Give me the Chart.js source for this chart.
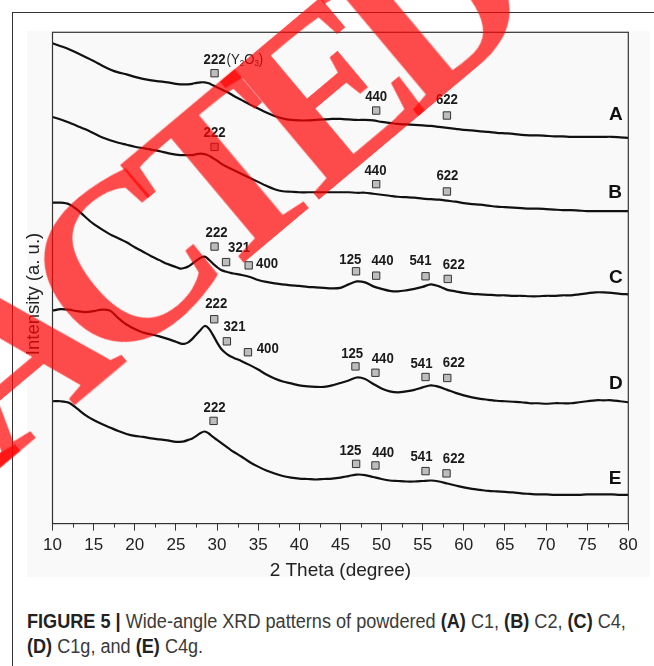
<!DOCTYPE html>
<html>
<head>
<meta charset="utf-8">
<script src="https://cdn.jsdelivr.net/npm/chart.js@4.4.1/dist/chart.umd.min.js"></script>
<style>
    body { margin: 0; background: #fff; }
    #wrap { position: relative; width: 654px; height: 666px; overflow: hidden; }
    #frame { position: absolute; left: 12px; top: 12px; width: 700px; height: 700px; border-left: 1px solid #333; border-top: 1px solid #333; }
    #panel { position: absolute; left: 27px; top: 31px; width: 623px; height: 546px; background: #f9f9f9; }
    #xrd { position: absolute; left: 0; top: 0; }
    #caption { position: absolute; left: 27px; top: 609px; font-family: "Liberation Sans", Arial, sans-serif; font-size: 19.5px; line-height: 25px; color: #3a3a3a; white-space: nowrap; }
    #caption .ln { display: block; transform-origin: left center; }
    #caption .ln span { display: inline-block; }
    #caption b { color: #222; }
    #stamp { position: absolute; left: 2px; top: 363px; transform: translate(-50%, -50%) rotate(-40deg); font-family: "Liberation Serif", serif; font-weight: bold; font-size: 235px; letter-spacing: -27px; line-height: 1; color: rgba(255, 0, 0, 0.7); white-space: nowrap; pointer-events: none; }
</style>
</head>
<body>
<div id="wrap">
    <div id="frame"></div>
    <div id="panel"></div>
    <canvas id="xrd" width="654" height="580"></canvas>
    <div id="caption">
        <div class="ln"><span id="line1"><b>FIGURE 5 |</b> Wide-angle XRD patterns of powdered <b>(A)</b> C1, <b>(B)</b> C2, <b>(C)</b> C4,</span></div>
        <div class="ln"><span id="line2"><b>(D)</b> C1g, and <b>(E)</b> C4g.</span></div>
    </div>
    <div id="stamp">RETRACTED</div>
</div>
<script>
// 2 theta positions (degree)
const theta = [10, 11, 12, 13, 14, 15, 16, 17, 18, 19, 20, 21, 22, 23, 24,
    25, 25.5, 26, 26.5, 27, 27.5, 28, 28.5, 29, 29.5, 30, 30.5, 31, 31.5, 32,
    33, 34, 35, 36, 37, 38, 39, 40, 41, 42, 43, 44, 45, 46, 47, 48, 49, 50, 51, 52, 53, 54, 55, 56,
    57, 58, 59, 60, 61, 62, 63, 64, 65, 66, 67, 68, 69, 70, 71, 72, 73, 74, 75, 76, 77, 78, 79, 80]

// stacked intensities (a. u.)
const patternA = [485, 482, 479, 475, 471, 467, 462.5, 458.5, 455.5, 453.5, 451, 449, 447.5, 446.5, 445.5,
    444, 443.5, 443.5, 443.5, 444, 445, 445.5, 445.5, 444.5, 442.5, 440.5, 438.5, 436.5, 434.5, 432,
    427.5, 423, 419, 415, 411.5, 409, 407.5, 407, 407, 407.5, 408, 408.5, 408.5, 408, 407.5, 407.5, 407, 405.5, 404.5, 403.5, 403, 402.5, 402, 401.5,
    400.5, 399.5, 398.5, 397.5, 397, 396, 395.5, 394.5, 394, 393.5, 392.5, 392, 392, 391.5, 391, 391, 390.5, 390.5, 390.5, 390.5, 390.5, 390.5, 390, 389.5]

const patternB = [410.5, 408, 405, 401.5, 398, 394, 390, 387, 384.5, 382.5, 380.5, 379, 377.5, 376, 374,
    372.5, 372, 372, 372, 372, 373, 373.5, 373, 371.5, 369, 366.5, 363.5, 361, 359, 357,
    353, 349, 345, 341, 337.5, 335.5, 335, 334.5, 334.5, 334.5, 334.5, 334.5, 334.5, 334.5, 334, 334, 333, 332, 331, 330, 329.5, 329, 328, 327.5,
    327, 326, 325, 323.5, 322.5, 322, 321, 320, 319.5, 319, 318.5, 318, 318, 317.5, 317, 316.5, 316.5, 316, 315.5, 315.5, 315.5, 315.5, 315.5, 315.5]

const patternC = [324, 324, 322.5, 317, 309.5, 302.5, 297, 292, 288, 284, 279, 274.5, 270, 266, 262,
    259, 257.5, 258, 259.5, 262.5, 265.5, 268.5, 269.5, 266.5, 262.5, 259, 256, 254.5, 253.5, 252.5,
    251, 249, 246, 244, 242.5, 241.5, 240.5, 240, 239, 238.5, 238, 237.5, 238, 241.5, 244.5, 243.5, 239.5, 237, 235, 234.5, 235.5, 237, 239, 241.5,
    239.5, 236, 234.5, 233, 232, 231.5, 231, 230.5, 230.5, 230, 230, 229.5, 229.5, 230, 230, 230.5, 230.5, 231.5, 232.5, 233.5, 233.5, 233, 232, 231.5]

const patternD = [215, 216.5, 216, 214.5, 213.5, 214.5, 216, 215, 207.5, 201, 196.5, 193, 191, 189, 186.5,
    183.5, 182, 181.5, 183, 186.5, 191, 195.5, 199.5, 197, 190.5, 183, 176.5, 172.5, 169.5, 167.5,
    164, 160, 155.5, 150.5, 146.5, 143.5, 141.5, 139.5, 138.5, 138, 138, 139.5, 142, 144.5, 147.5, 146, 141, 136.5, 133.5, 132.5, 133.5, 135, 137.5, 139.5,
    138, 135, 132, 129.5, 127.5, 126, 125, 124, 123.5, 123, 122.5, 121.5, 121.5, 121, 121.5, 121.5, 121.5, 122.5, 123.5, 124.5, 124.5, 124.5, 123.5, 122.5]

const patternE = [123.5, 123.5, 122, 116, 109.5, 104.5, 100.5, 97, 93.5, 90.5, 88.5, 87.5, 86, 85, 84,
    82.5, 82.5, 83, 84.5, 86, 88.5, 91.5, 93, 91, 87.5, 84.5, 81.5, 78.5, 75.5, 72.5,
    67.5, 62, 57.5, 53.5, 50.5, 48, 46.5, 45.5, 45, 44.5, 45, 45.5, 46.5, 48, 49.5, 49, 47, 45, 43.5, 43, 42.5, 42.5, 43, 43.5,
    42.5, 40.5, 38.5, 36.5, 35, 34, 33, 32.5, 32, 31.5, 30.5, 30, 29.5, 29.5, 29, 29, 29, 29, 29.5, 29.5, 29.5, 29.5, 29, 29]

const sampleNames = ["A", "B", "C", "D", "E"]

// reflections: [hkl, 2 theta, level]
const marksA = [["222", 29.7, 454.7], ["440", 49.35, 417], ["622", 57.95, 412]]
const marksB = [["222", 29.7, 380.3], ["440", 49.35, 342.7], ["622", 57.95, 335.3]]
const marksC = [["222", 29.7, 279.7], ["321", 31.1, 264], ["400", 33.85, 260.7], ["125", 46.9, 254.7],
    ["440", 49.35, 250.3], ["541", 55.35, 249.7], ["622", 58.05, 247]]
const marksD = [["222", 29.66, 206.3], ["321", 31.2, 184], ["400", 33.76, 173], ["125", 46.83, 158.7],
    ["440", 49.26, 152.3], ["541", 55.35, 148], ["622", 57.99, 147]]
const marksE = [["222", 29.58, 103.7], ["125", 46.91, 60.3], ["440", 49.26, 58.7], ["541", 55.35, 53], ["622", 57.9, 50.7]]

// label offsets from the square, px
const shiftA = [[0, -13.7], [0, -13.3], [0, -16]]
const shiftB = [[0, -14.4], [-0.7, -13.6], [0.5, -15.4]]
const shiftC = [[2, -14], [13, -14], [18.4, -1.6], [-5.7, -11.6], [6.3, -14.4], [-5, -15], [6, -14.3]]
const shiftD = [[2, -15.7], [7.6, -14.7], [19.8, -3.3], [-3.3, -12.6], [7.3, -14], [-4, -13.3], [6.6, -15.3]]
const shiftE = [[1, -13.3], [-5.7, -12.7], [7.7, -12.6], [-4, -14], [7.3, -15]]

// where the sample letters sit (2 theta, level)
const nameAt = [[78.5, 413], [78.4, 334], [78.5, 248], [78.5, 141.3], [78.4, 45.3]]

const patterns = [patternA, patternB, patternC, patternD, patternE]
const marks = [marksA, marksB, marksC, marksD, marksE]
const shifts = [shiftA, shiftB, shiftC, shiftD, shiftE]

const SANS = "'Liberation Sans', Arial, sans-serif"

function squeezeText(ctx, text, x, y, sx, align) {

    ctx.save()
    ctx.translate(x, y)
    ctx.scale(sx, 1)
    ctx.textAlign = align
    ctx.fillText(text, 0, 0)
    ctx.restore()

}

const decorations = {

    id: "decorations",

    afterDraw(chart) {

        const ctx = chart.ctx
        const area = chart.chartArea
        const xs = chart.scales.x
        const ys = chart.scales.y

        ctx.save()

        // plot frame
        ctx.strokeStyle = "#333"
        ctx.lineWidth = 1.2
        ctx.strokeRect(area.left, area.top, area.right - area.left, area.bottom - area.top)

        // minor ticks
        ctx.lineWidth = 1
        for (let v = 12.5; v < 80; v += 5) {
            const px = Math.round(xs.getPixelForValue(v)) + 0.5
            ctx.beginPath()
            ctx.moveTo(px, area.bottom)
            ctx.lineTo(px, area.bottom + 4)
            ctx.stroke()
        }

        // y title
        ctx.fillStyle = "#222"
        ctx.font = "18.5px " + SANS
        ctx.textAlign = "center"
        ctx.textBaseline = "middle"
        ctx.save()
        ctx.translate(33.5, 294)
        ctx.rotate(-Math.PI / 2)
        ctx.fillText("Intensity (a. u.)", 0, 0)
        ctx.restore()

        // reflection labels
        ctx.fillStyle = "#1a1a1a"
        ctx.textBaseline = "middle"
        marks.forEach((list, s) => {

            list.forEach((m, i) => {

                const x = xs.getPixelForValue(m[1]) + shifts[s][i][0]
                const y = ys.getPixelForValue(m[2]) + shifts[s][i][1]

                ctx.font = "bold 15px " + SANS
                squeezeText(ctx, m[0], x, y, 0.88, "center")

                if (s === 0 && i === 0) {
                    // phase note after the first label
                    let cx = x + ctx.measureText(m[0]).width * 0.44 + 1
                    const parts = [["(Y", 15, 0], ["2", 9, 4], ["O", 15, 0], ["3", 9, 4], [")", 15, 0]]
                    parts.forEach(p => {
                        ctx.font = p[1] + "px " + SANS
                        squeezeText(ctx, p[0], cx, y + p[2], 0.88, "left")
                        cx += ctx.measureText(p[0]).width * 0.88
                    })
                }

            })

        })

        // sample letters
        ctx.font = "bold 19px " + SANS
        ctx.fillStyle = "#111"
        sampleNames.forEach((n, i) => {
            squeezeText(ctx, n, xs.getPixelForValue(nameAt[i][0]), ys.getPixelForValue(nameAt[i][1]), 1, "center")
        })

        ctx.restore()

    }

}

function buildDatasets() {

    const sets = patterns.map((p, i) => ({

        label: sampleNames[i],
        data: theta.map((t, k) => ({ x: t, y: p[k] })),
        showLine: true,
        borderColor: "#111",
        borderWidth: 2.2,
        pointRadius: 0,
        tension: 0.3

    }))

    const squares = []
    marks.forEach(list => list.forEach(m => squares.push({ x: m[1], y: m[2] })))

    sets.push({

        label: "reflections",
        data: squares,
        showLine: false,
        pointStyle: "rect",
        pointRadius: 5.2,
        backgroundColor: "#bdbdbd",
        borderColor: "#333",
        borderWidth: 1

    })

    return sets

}

const chart = new Chart(document.getElementById("xrd"), {

    type: "scatter",

    data: { datasets: buildDatasets() },

    options: {

        responsive: false,
        animation: false,
        devicePixelRatio: 1,

        layout: { padding: { left: 52.5, right: 25.7, top: 32.3, bottom: 0 } },

        plugins: {
            legend: { display: false },
            tooltip: { enabled: false }
        },

        scales: {

            x: {
                type: "linear",
                min: 10,
                max: 80,
                border: { display: false },
                grid: { drawOnChartArea: false, drawTicks: true, tickLength: 7, tickColor: "#333", tickWidth: 1 },
                ticks: { stepSize: 5, autoSkip: false, maxRotation: 0, padding: 5, color: "#222", font: { family: SANS, size: 17 } },
                title: { display: true, text: "2 Theta (degree)", color: "#222", font: { family: SANS, size: 19, lineHeight: 1 }, padding: { top: 0, bottom: 0 } }
            },

            y: { display: false, min: 0, max: 496 }

        }

    },

    plugins: [decorations]

})

// fit the caption lines to the column width
const line1 = document.getElementById("line1")
const squeeze = 599 / line1.offsetWidth
document.querySelectorAll("#caption .ln").forEach(el => { el.style.transform = "scaleX(" + squeeze + ")" })
</script>
</body>
</html>
